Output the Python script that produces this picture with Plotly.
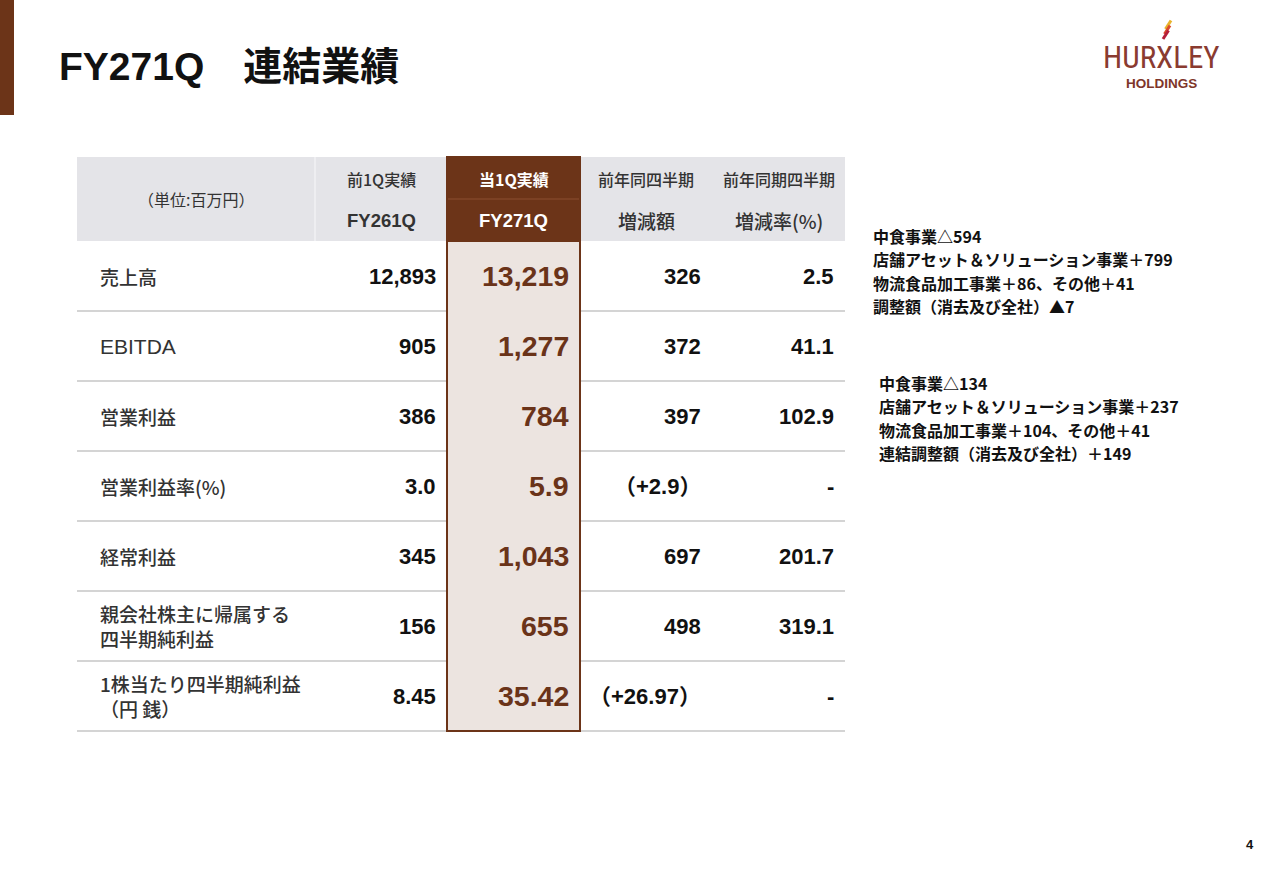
import plotly.graph_objects as go

# ---------------- data ----------------
row_labels = ["売上高", "EBITDA", "営業利益", "営業利益率(%)", "経常利益",
              "親会社株主に帰属する<br>四半期純利益", "1株当たり四半期純利益<br>（円 銭）"]
prev_q = ["12,893", "905", "386", "3.0", "345", "156", "8.45"]
curr_q = ["13,219", "1,277", "784", "5.9", "1,043", "655", "35.42"]
yoy_change = ["326", "372", "397", "（+2.9）", "697", "498", "（+26.97）"]
yoy_rate = ["2.5", "41.1", "102.9", "-", "201.7", "319.1", "-"]
header_top = ["前1Q実績", "当1Q実績", "前年同四半期", "前年同期四半期"]
header_bottom = ["FY261Q", "FY271Q", "増減額", "増減率(%)"]
unit_label = "（単位:百万円）"
title_text = "FY271Q　連結業績"
note_sales = ["中食事業△594", "店舗アセット＆ソリューション事業＋799",
              "物流食品加工事業＋86、その他＋41", "調整額（消去及び全社）▲7"]
note_op = ["中食事業△134", "店舗アセット＆ソリューション事業＋237",
           "物流食品加工事業＋104、その他＋41", "連結調整額（消去及び全社）＋149"]
page_no = "4"

# ---------------- style / layout ----------------
W, H = 1280, 886
BROWN = "#6c3418"
BROWN_TXT = "#6a3319"
HEAD_GRAY = "#e4e4e8"
BODY_TINT = "#ece4e0"
LINE_GRAY = "#c6c6c6"
JP = "Noto Sans CJK JP"
LAT = "Liberation Sans, Arial"

col_edges = [77, 315, 447, 580, 712, 845]
head_top, head_mid, head_bot = 157, 199, 241
row_h = 70

fig = go.Figure()
fig.add_trace(go.Scatter(x=[0], y=[0], mode="markers", marker=dict(opacity=0), hoverinfo="skip"))
fig.update_layout(
    width=W, height=H, margin=dict(l=0, r=0, t=0, b=0),
    paper_bgcolor="white", plot_bgcolor="white", showlegend=False,
    xaxis=dict(range=[0, W], visible=False, fixedrange=True),
    yaxis=dict(range=[H, 0], visible=False, fixedrange=True),
)

shapes = []
ann = []

# left accent bar
shapes.append(dict(type="rect", xref="x", yref="y", x0=0, x1=14, y0=0, y1=115,
                   fillcolor=BROWN, line=dict(width=0)))
# title
ann.append(dict(x=57, y=66, xref="x", yref="y", text=title_text, showarrow=False,
                xanchor="left", yanchor="middle",
                font=dict(family=LAT + ", " + JP, size=39, color="#111111", weight="bold")))

# logo stripes
for (xa, ya, xb, yb), c in zip([(1165.5, 29, 1171, 20.5), (1164.5, 34, 1170, 25.5), (1163, 39, 1168.5, 30.5)],
                               ["#e8b42c", "#dc4a2c", "#b51e3a"]):
    shapes.append(dict(type="line", xref="x", yref="y", x0=xa, y0=ya, x1=xb, y1=yb,
                       line=dict(color=c, width=3)))
ann.append(dict(x=1161, y=57, xref="x", yref="y", text="HURXLEY", showarrow=False,
                xanchor="center", yanchor="middle",
                font=dict(family="Liberation Sans Narrow, Roboto Condensed, Liberation Sans", size=31,
                          color="#8a3b30")))
ann.append(dict(x=1161, y=83, xref="x", yref="y", text="HOLDINGS", showarrow=False,
                xanchor="center", yanchor="middle",
                font=dict(family=LAT, size=13.5, color="#7e3529", weight="bold")))

# header background
shapes.append(dict(type="rect", xref="x", yref="y", x0=col_edges[0], x1=col_edges[-1],
                   y0=head_top, y1=head_bot, fillcolor=HEAD_GRAY, line=dict(width=0)))
shapes.append(dict(type="line", xref="x", yref="y", x0=col_edges[1], x1=col_edges[1],
                   y0=head_top, y1=head_bot, line=dict(color="#f2f2f4", width=1.5)))

n = len(row_labels)
body_bot = head_bot + row_h * n
# row separator lines
for i in range(1, n + 1):
    yy = head_bot + row_h * i
    shapes.append(dict(type="line", xref="x", yref="y", x0=col_edges[0], x1=col_edges[-1],
                       y0=yy, y1=yy, line=dict(color=LINE_GRAY, width=1.5)))

# highlighted current column
shapes.append(dict(type="rect", xref="x", yref="y", x0=col_edges[2], x1=col_edges[3],
                   y0=head_bot, y1=body_bot, fillcolor=BODY_TINT, line=dict(color=BROWN, width=2)))
shapes.append(dict(type="rect", xref="x", yref="y", x0=col_edges[2], x1=col_edges[3],
                   y0=head_top, y1=head_bot, fillcolor=BROWN, line=dict(color=BROWN, width=2)))
shapes.append(dict(type="line", xref="x", yref="y", x0=col_edges[2] + 1, x1=col_edges[3] - 1,
                   y0=head_mid, y1=head_mid, line=dict(color="#8c4e30", width=1)))

# header texts
ann.append(dict(x=(col_edges[0] + col_edges[1]) / 2, y=(head_top + head_bot) / 2, xref="x", yref="y",
                text=unit_label, showarrow=False, xanchor="center", yanchor="middle",
                font=dict(family=JP, size=16, color="#333333")))
for j in range(4):
    cx = (col_edges[j + 1] + col_edges[j + 2]) / 2
    is_cur = (j == 1)
    col = "white" if is_cur else "#333333"
    ann.append(dict(x=cx, y=179, xref="x", yref="y", text=header_top[j], showarrow=False,
                    xanchor="center", yanchor="middle",
                    font=dict(family=JP, size=16, color=col, weight="bold" if is_cur else 500)))
    bottom_font = dict(family=LAT + ", " + JP, size=18.5, color=col, weight="bold") if j < 2 \
        else dict(family=JP, size=19, color=col, weight=500)
    ann.append(dict(x=cx, y=220, xref="x", yref="y", text=header_bottom[j], showarrow=False,
                    xanchor="center", yanchor="middle", font=bottom_font))

# body
value_cols = [prev_q, curr_q, yoy_change, yoy_rate]
for i in range(n):
    cy = head_bot + row_h * i + row_h / 2
    if row_labels[i].isascii():
        lf = dict(family=LAT, size=21, color="#333333")
    else:
        lf = dict(family=JP, size=19, color="#333333", weight=500)
    ann.append(dict(x=98, y=cy, xref="x", yref="y", text=row_labels[i], showarrow=False,
                    xanchor="left", yanchor="middle", align="left", font=lf))
    for j, vals in enumerate(value_cols):
        xr = col_edges[j + 2] - 9
        if j == 1:
            f = dict(family=LAT, size=28.5, color=BROWN_TXT, weight="bold")
        else:
            f = dict(family=LAT + ", " + JP, size=22, color="#111111", weight="bold")
        ann.append(dict(x=xr, y=cy, xref="x", yref="y", text=vals[i], showarrow=False,
                        xanchor="right", yanchor="middle", font=f))

# side notes
for k, t in enumerate(note_sales):
    ann.append(dict(x=871, y=236 + 23.3 * k, xref="x", yref="y", text=t, showarrow=False,
                    xanchor="left", yanchor="middle",
                    font=dict(family=JP, size=16, color="#111111", weight="bold")))
for k, t in enumerate(note_op):
    ann.append(dict(x=877, y=383 + 23.3 * k, xref="x", yref="y", text=t, showarrow=False,
                    xanchor="left", yanchor="middle",
                    font=dict(family=JP, size=16, color="#111111", weight="bold")))

# page number
ann.append(dict(x=1250, y=844, xref="x", yref="y", text=page_no, showarrow=False,
                xanchor="center", yanchor="middle",
                font=dict(family=LAT, size=13, color="#111111", weight="bold")))

fig.update_layout(shapes=shapes, annotations=ann)
fig.write_html("out.html", config={"displayModeBar": False},
               post_script="document.body.style.margin='0px';document.body.style.overflow='hidden';")
